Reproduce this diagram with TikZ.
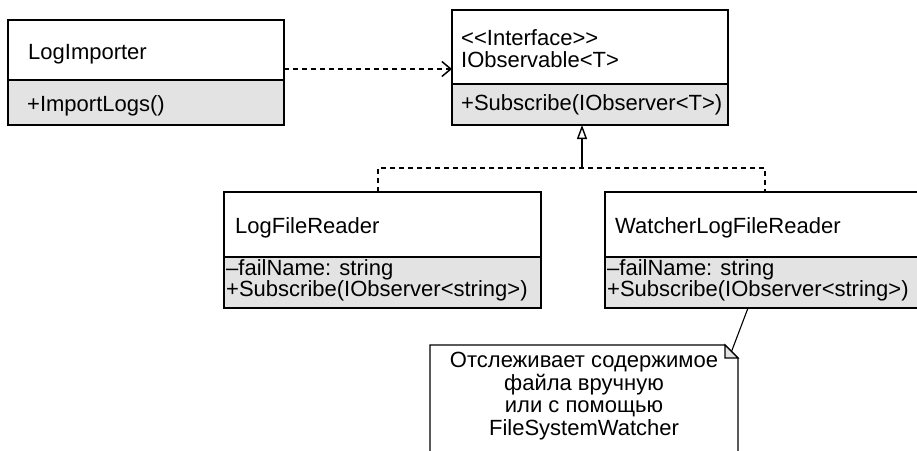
\documentclass[tikz,border=0pt]{standalone}
\usepackage{fontspec}
\setmainfont{Liberation Sans}
\usetikzlibrary{arrows.meta,calc}
\definecolor{compgray}{HTML}{E3E3E3}
\begin{document}
\begin{tikzpicture}[x=1pt,y=-1pt,
  box/.style={draw, line width=1.1pt, anchor=north west, inner sep=0pt, outer sep=0pt},
  toppart/.style={box, fill=white},
  botpart/.style={box, fill=compgray},
  txt/.style={anchor=base west, inner sep=0pt, font=\fontsize{22}{26}\selectfont},
  depline/.style={line width=1.1pt, dash pattern=on 5pt off 4pt}]
\useasboundingbox (0,0) rectangle (917,450);
% LogImporter
\node[toppart, minimum width=276pt, minimum height=60pt] (liT) at (8,20) {};
\node[botpart, minimum width=276pt, minimum height=45pt] (liB) at (8,80) {};
\node[txt] (liN) at (28,59) {LogImporter};
\node[txt] (liM) at (27,111) {+ImportLogs()};
% IObservable
\node[toppart, minimum width=276pt, minimum height=74pt] (ioT) at (452,10) {};
\node[botpart, minimum width=276pt, minimum height=41pt] (ioB) at (452,84) {};
\node[txt] (ioS) at (461,45) {<{}<Interface>{}>};
\node[txt] (ioN) at (461,67) {IObservable<T>};
\node[txt] (ioM) at (461,110) {+Subscribe(IObserver<T>)};
% LogFileReader
\node[toppart, minimum width=317pt, minimum height=65pt] (lfT) at (224,192) {};
\node[botpart, minimum width=317pt, minimum height=51pt] (lfB) at (224,257) {};
\node[txt] (lfN) at (235,233) {LogFileReader};
\node[txt] (lfA) at (226,275) {–failName: string};
\node[txt] (lfM) at (226,296) {+Subscribe(IObserver<string>)};
% WatcherLogFileReader
\node[toppart, minimum width=320pt, minimum height=65pt] (wT) at (605,192) {};
\node[botpart, minimum width=320pt, minimum height=51pt] (wB) at (605,257) {};
\node[txt] (wN) at (615,233) {WatcherLogFileReader};
\node[txt] (wA) at (607,275) {–failName: string};
\node[txt] (wM) at (607,296) {+Subscribe(IObserver<string>)};
% dependency
\draw[depline, -{Straight Barb[length=9pt,width=15pt,line width=1.5pt]}]
  ([yshift=11pt]liT.south east) -- ([yshift=11pt]liT.south east -| ioT.west);
% realization
\coordinate (jn) at (582,168);
\draw[line width=1.1pt, -{Triangle[open,length=14pt,width=10pt,line width=1.4pt]}] (jn) -- (jn |- ioB.south);
\draw[depline] ([xshift=-4.5pt]lfT.north) |- (jn) -| (wT.north);
% note
\node[minimum width=308pt, minimum height=115pt, anchor=north west, inner sep=0pt, outer sep=0pt] (note) at (430,345) {};
\draw[line width=1.1pt] (note.south west) -- (note.north west) -- ([xshift=-13pt]note.north east)
  -- ([yshift=-13pt]note.north east) -- (note.south east);
\filldraw[line width=1.1pt, fill=compgray] ([xshift=-13pt]note.north east) -- ([xshift=-13pt,yshift=-13pt]note.north east)
  -- ([yshift=-13pt]note.north east) -- cycle;
\node[anchor=base, align=center, inner sep=0pt, font=\fontsize{22}{22.4}\selectfont] (noteT) at (584,435)
  {Отслеживает содержимое\\файла вручную\\или с помощью\\FileSystemWatcher};
\coordinate (fold) at ($([xshift=-13pt]note.north east)!0.5!([yshift=-13pt]note.north east)$);
\draw[line width=1.1pt] (fold) -- ([xshift=143pt]wB.south west);
\end{tikzpicture}
\end{document}
